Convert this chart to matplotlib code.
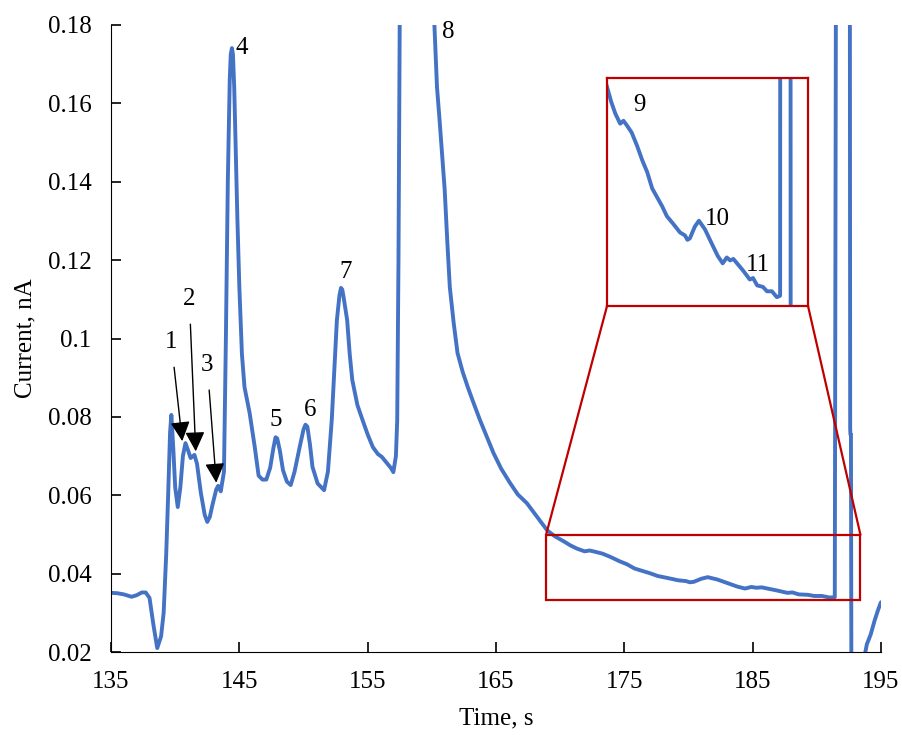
import numpy as np
import matplotlib
matplotlib.use("Agg")
import matplotlib.pyplot as plt
from matplotlib.patches import Rectangle, ConnectionPatch

plt.rcParams['font.family'] = ['Liberation Serif', 'DejaVu Serif']
plt.rcParams['font.size'] = 18

# time, s / current, nA
time = [135.0, 135.5, 136.0, 136.6, 137.0, 137.4, 137.7, 138.0, 138.3, 138.6,
        138.9, 139.1, 139.3, 139.45, 139.6, 139.7, 139.85, 140.0, 140.2, 140.4,
        140.6, 140.8, 141.0, 141.2, 141.5, 141.7, 142.0, 142.3, 142.5, 142.7,
        142.9, 143.2, 143.35, 143.55, 143.7, 143.8, 143.95, 144.1, 144.25, 144.33,
        144.42, 144.5, 144.6, 144.7, 144.85, 145.0, 145.2, 145.4, 145.8, 146.2,
        146.5, 146.8, 147.1, 147.4, 147.65, 147.82, 147.95, 148.15, 148.4, 148.7,
        149.0, 149.3, 149.7, 150.0, 150.15, 150.3, 150.5, 150.7, 151.1, 151.6,
        151.9, 152.2, 152.6, 152.8, 152.92, 153.02, 153.15, 153.4, 153.6, 153.8,
        154.2, 154.6, 155.0, 155.4, 155.8, 156.1, 156.5, 156.8, 157.0, 157.2,
        157.3, 157.4, 157.5, 157.6, 160.0, 160.2, 160.4, 160.6, 160.8, 161.0,
        161.2, 161.4, 161.7, 162.0, 162.4, 162.8, 163.2, 163.75, 164.3, 164.8,
        165.4, 166.1, 166.7, 167.4, 168.2, 169.0, 169.6, 170.3, 170.8, 171.3,
        171.9, 172.3, 172.7, 173.3, 173.96, 174.6, 175.2, 175.8, 176.5, 177.0,
        177.6, 178.35, 179.2, 179.8, 180.1, 180.4, 181.0, 181.5, 182.25, 183.1,
        183.8, 184.4, 184.9, 185.3, 185.7, 186.15, 186.9, 187.7, 188.1, 188.6,
        189.3, 189.8, 190.4, 191.0, 191.4, 191.55, 192.55, 192.6, 192.62, 192.66,
        192.7, 193.2, 193.75, 193.9, 194.2, 194.5, 194.8, 195.0]
current = [0.0351, 0.0350, 0.0347, 0.0341, 0.0345, 0.0352, 0.0352, 0.0338, 0.0270, 0.0210,
           0.0240, 0.0300, 0.0450, 0.0600, 0.0760, 0.0805, 0.0720, 0.0620, 0.0570, 0.0620,
           0.0700, 0.0733, 0.0715, 0.0695, 0.0703, 0.0680, 0.0606, 0.0550, 0.0532, 0.0545,
           0.0575, 0.0615, 0.0624, 0.0610, 0.0640, 0.0660, 0.1000, 0.1400, 0.1660, 0.1725,
           0.1741, 0.1725, 0.1640, 0.1500, 0.1300, 0.1130, 0.0960, 0.0876, 0.0810, 0.0723,
           0.0650, 0.0640, 0.0640, 0.0670, 0.0720, 0.0748, 0.0745, 0.0715, 0.0664, 0.0635,
           0.0626, 0.0660, 0.0723, 0.0768, 0.0780, 0.0775, 0.0730, 0.0672, 0.0630, 0.0613,
           0.0660, 0.0792, 0.1047, 0.1110, 0.1129, 0.1125, 0.1100, 0.1047, 0.0960, 0.0894,
           0.0830, 0.0792, 0.0755, 0.0723, 0.0705, 0.0698, 0.0682, 0.0670, 0.0659, 0.0700,
           0.0790, 0.1200, 0.1800, 0.3000, 0.3000, 0.1800, 0.1642, 0.1558, 0.1470, 0.1380,
           0.1250, 0.1131, 0.1040, 0.0963, 0.0915, 0.0876, 0.0840, 0.0792, 0.0748, 0.0708,
           0.0668, 0.0631, 0.0602, 0.0580, 0.0545, 0.0510, 0.0495, 0.0482, 0.0472, 0.0464,
           0.0457, 0.0459, 0.0456, 0.0451, 0.0442, 0.0432, 0.0424, 0.0413, 0.0406, 0.0401,
           0.0394, 0.0389, 0.0383, 0.0381, 0.0378, 0.0379, 0.0387, 0.0391, 0.0385, 0.0375,
           0.0367, 0.0362, 0.0366, 0.0364, 0.0365, 0.0362, 0.0357, 0.0351, 0.0352, 0.0347,
           0.0346, 0.0343, 0.0343, 0.0339, 0.0340, 0.3000, 0.3000, 0.0770, 0.0755, 0.0755,
           0.0000, np.nan, 0.0195, 0.0220, 0.0245, 0.0280, 0.0310, 0.0327]

peak_labels = ["4", "5", "6", "7", "8"]
peak_label_pos = [(145.2, 0.1741), (147.8, 0.0792), (150.5, 0.0818), (153.3, 0.1170), (161.25, 0.1782)]
arrow_labels = ["1", "2", "3"]
arrow_text_pos = [(139.7, 0.0990), (141.1, 0.1100), (142.5, 0.0932)]
arrow_tip_pos = [(140.55, 0.0738), (141.6, 0.0712), (143.2, 0.0632)]
inset_labels = ["9", "10", "11"]
inset_label_pos = [(174.2, 0.0470), (183.7, 0.0392), (188.7, 0.0361)]

blue = '#4472C4'
red = '#C00000'

fig = plt.figure(figsize=(9.02, 7.35), dpi=100)
ax = fig.add_axes([0.1231, 0.1129, 0.8536, 0.8531])
ax.plot(time, current, color=blue, lw=2.8, solid_joinstyle='round', solid_capstyle='round')
ax.set_xlim(135, 195)
ax.set_ylim(0.02, 0.18)
ax.set_xticks(np.arange(135, 196, 10))
ax.set_yticks(np.arange(0.02, 0.181, 0.02))
ax.set_yticklabels(["0.02", "0.04", "0.06", "0.08", "0.1", "0.12", "0.14", "0.16", "0.18"])
ax.spines['top'].set_visible(False)
ax.spines['right'].set_visible(False)
ax.tick_params(direction='in', length=7, width=1.2, pad=14)
ax.set_xlabel("Time, s", labelpad=10)
ax.set_ylabel("Current, nA", labelpad=8)

for lab, (x, y) in zip(peak_labels, peak_label_pos):
    ax.text(x, y, lab, ha='center', va='center')
for lab, (x, y), tip in zip(arrow_labels, arrow_text_pos, arrow_tip_pos):
    ax.annotate(lab, xy=tip, xytext=(x, y), ha='center', va='center',
                arrowprops=dict(arrowstyle='-|>', color='black', lw=1,
                                mutation_scale=30, shrinkA=8, shrinkB=0))

# zoom box on the tail
x0, x1, y0, y1 = 168.9, 193.4, 0.0333, 0.0499
ax.add_patch(Rectangle((x0, y0), x1 - x0, y1 - y0, fill=False, ec=red, lw=1.6, zorder=3))

axins = fig.add_axes([0.673, 0.5837, 0.2228, 0.310])
axins.plot(time, current, color=blue, lw=2.8, solid_joinstyle='round')
axins.set_xlim(170.3, 194.8)
axins.set_ylim(0.0333, 0.0488)
axins.set_xticks([])
axins.set_yticks([])
for s in axins.spines.values():
    s.set_color(red)
    s.set_linewidth(1.6)
for lab, (x, y) in zip(inset_labels, inset_label_pos):
    axins.text(x, y, lab, ha='center', va='center')

for (xa, ya), (xb, yb) in [((x0, y1), (0, 0)), ((x1, y1), (1, 0))]:
    con = ConnectionPatch(xyA=(xa, ya), coordsA=ax.transData,
                          xyB=(xb, yb), coordsB=axins.transAxes,
                          color=red, lw=1.6)
    fig.add_artist(con)

fig.savefig("out.png", dpi=100)
